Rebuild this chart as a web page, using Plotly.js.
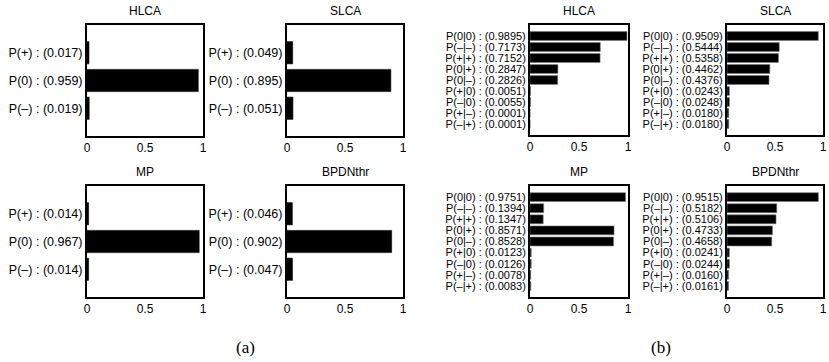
<!DOCTYPE html>
<html>
<head>
<meta charset="utf-8">
<script src="https://cdn.plot.ly/plotly-3.0.1.min.js"></script>
<style>html,body{margin:0;padding:0;background:#fff;}#chart{width:829px;height:362px;}</style>
</head>
<body>
<div id="chart"></div>
<script>
// ---- data ----
const titles = ["HLCA", "SLCA", "MP", "BPDNthr"];

const labelsA = ["P(+)", "P(0)", "P(–)"];
const hlcaA = [0.017, 0.959, 0.019];
const slcaA = [0.049, 0.895, 0.051];
const mpA = [0.014, 0.967, 0.014];
const bpdnA = [0.046, 0.902, 0.047];

const labelsB = ["P(0|0)", "P(–|–)", "P(+|+)", "P(0|+)", "P(0|–)", "P(+|0)", "P(–|0)", "P(+|–)", "P(–|+)"];
const hlcaB = [0.9895, 0.7173, 0.7152, 0.2847, 0.2826, 0.0051, 0.0055, 0.0001, 0.0001];
const slcaB = [0.9509, 0.5444, 0.5358, 0.4462, 0.4376, 0.0243, 0.0248, 0.0180, 0.0180];
const mpB = [0.9751, 0.1394, 0.1347, 0.8571, 0.8528, 0.0123, 0.0126, 0.0078, 0.0083];
const bpdnB = [0.9515, 0.5182, 0.5106, 0.4733, 0.4658, 0.0241, 0.0244, 0.0160, 0.0161];

const xTicks = [0, 0.5, 1];
const xTickText = ["0", "0.5", "1"];

// ---- layout helpers ----
const W = 829, H = 362;
const px = (x0, x1) => [x0 / W, x1 / W];
const py = (y0, y1) => [1 - y1 / H, 1 - y0 / H];

const panels = [
  {vals: hlcaA, labels: labelsA, digits: 3, title: titles[0], x: [87, 203], y: [25, 136], fs: 12.5, edge: "#000"},
  {vals: slcaA, labels: labelsA, digits: 3, title: titles[1], x: [287, 403], y: [25, 136], fs: 12.5, edge: "#000"},
  {vals: mpA, labels: labelsA, digits: 3, title: titles[2], x: [87, 203], y: [186, 297], fs: 12.5, edge: "#000"},
  {vals: bpdnA, labels: labelsA, digits: 3, title: titles[3], x: [287, 403], y: [186, 297], fs: 12.5, edge: "#000"},
  {vals: hlcaB, labels: labelsB, digits: 4, title: titles[0], x: [530, 628], y: [25, 135], fs: 11, edge: "#777"},
  {vals: slcaB, labels: labelsB, digits: 4, title: titles[1], x: [727, 823], y: [25, 135], fs: 11, edge: "#777"},
  {vals: mpB, labels: labelsB, digits: 4, title: titles[2], x: [530, 628], y: [186, 297], fs: 11, edge: "#777"},
  {vals: bpdnB, labels: labelsB, digits: 4, title: titles[3], x: [727, 823], y: [186, 297], fs: 11, edge: "#777"}
];

const FONT = "Liberation Sans, Arial, Helvetica, sans-serif";
const data = [];
const layout = {
  width: W, height: H,
  margin: {l: 0, r: 0, t: 0, b: 0},
  paper_bgcolor: "#fff", plot_bgcolor: "#fff",
  showlegend: false,
  font: {family: FONT, color: "#000", size: 12},
  annotations: [],
  bargap: 0.2
};

panels.forEach((p, i) => {
  const k = i + 1;
  const xa = k === 1 ? "x" : "x" + k;
  const ya = k === 1 ? "y" : "y" + k;
  const n = p.vals.length;
  const idx = p.vals.map((_, j) => j);
  data.push({
    type: "bar", orientation: "h",
    x: p.vals, y: idx,
    xaxis: xa, yaxis: ya,
    width: 0.8,
    marker: {color: "#000", line: {color: p.edge, width: 0.6}},
    hoverinfo: "skip"
  });
  layout["xaxis" + (k === 1 ? "" : k)] = {
    domain: px(p.x[0], p.x[1]),
    anchor: ya,
    range: [0, 1],
    tickvals: xTicks, ticktext: xTickText,
    ticks: "", showgrid: false, zeroline: false,
    showline: true, mirror: true, linecolor: "#000", linewidth: 2,
    tickfont: {size: 12, family: FONT},
    fixedrange: true
  };
  layout["yaxis" + (k === 1 ? "" : k)] = {
    domain: py(p.y[0], p.y[1]),
    anchor: xa,
    range: [n, -1],
    tickvals: idx,
    ticktext: p.labels.map((l, j) => l + " : (" + p.vals[j].toFixed(p.digits) + ")"),
    ticks: "", showgrid: false, zeroline: false,
    showline: true, mirror: true, linecolor: "#000", linewidth: 2,
    tickfont: {size: p.fs, family: FONT},
    fixedrange: true
  };
  layout.annotations.push({
    text: p.title, xref: "paper", yref: "paper",
    x: (p.x[0] + p.x[1]) / 2 / W, y: 1 - (p.y[0] - 14) / H,
    xanchor: "center", yanchor: "middle", showarrow: false,
    font: {size: 12, family: FONT}
  });
});

layout.annotations.push({
  text: "(a)", xref: "paper", yref: "paper", x: 245 / W, y: 1 - 347 / H,
  xanchor: "center", yanchor: "middle", showarrow: false,
  font: {size: 17, family: "Liberation Serif, DejaVu Serif, serif"}
});
layout.annotations.push({
  text: "(b)", xref: "paper", yref: "paper", x: 661 / W, y: 1 - 347 / H,
  xanchor: "center", yanchor: "middle", showarrow: false,
  font: {size: 17, family: "Liberation Serif, DejaVu Serif, serif"}
});

Plotly.newPlot("chart", data, layout, {staticPlot: true, displayModeBar: false});
</script>
</body>
</html>
